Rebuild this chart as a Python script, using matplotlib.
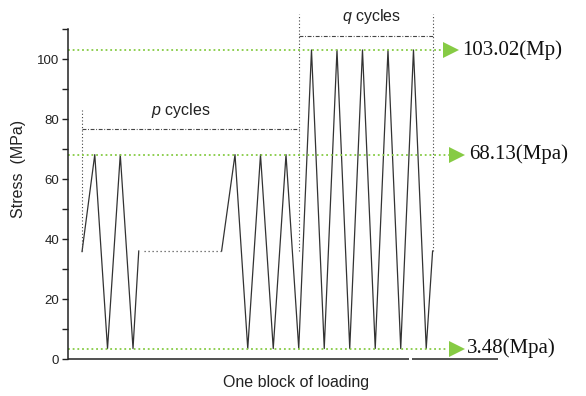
import matplotlib
matplotlib.use("Agg")
import matplotlib.pyplot as plt
from matplotlib.ticker import MultipleLocator

plt.rcParams["font.family"] = ["Liberation Sans", "DejaVu Sans"]
plt.rcParams["mathtext.fontset"] = "custom"
plt.rcParams["mathtext.rm"] = "Liberation Sans"
plt.rcParams["mathtext.it"] = "Liberation Sans:italic"

# Stress levels of the loading block (MPa)
s_max_q = 103.02
s_max_p = 68.13
s_min = 3.48
s_mean = 36.0

# First part of the p-cycle sequence
t_p1 = [0, 1, 2, 3, 4, 4.45]
s_p1 = [35.8, s_max_p, s_min, s_max_p, s_min, s_mean]

# Omitted cycles (dotted)
t_gap = [4.85, 10.95]
s_gap = [s_mean, s_mean]

# Last p cycles followed by the q cycles
t_pq = [10.95, 12, 13, 14, 15, 16, 17, 18, 19, 20, 21, 22, 23, 24, 25, 26, 27, 27.5]
s_pq = [s_mean, s_max_p, s_min, s_max_p, s_min, s_max_p, s_min,
        s_max_q, s_min, s_max_q, s_min, s_max_q, s_min, s_max_q, s_min,
        s_max_q, s_min, s_mean]

# Block boundaries and bracket levels
t_bounds = [0, 17, 27.5]
bound_tops = [83, 115, 115]
p_bracket = 76.7
q_bracket = 107.7

level_values = [s_max_q, s_max_p, s_min]
level_labels = ["103.02(Mp)", "68.13(Mpa)", "3.48(Mpa)"]
level_line_end = [28.6, 28.8, 28.7]
level_arrow_x = [28.95, 29.45, 29.4]
level_text_x = [29.85, 30.35, 30.2]

GREEN = "#86CB44"
DARK = "#333333"

fig = plt.figure(figsize=(5.86, 3.96), dpi=100)
ax = fig.add_axes([68 / 586, 1 - 359 / 396, 430 / 586, 330 / 396])

xmin, xmax = -1.1, 32.63
ax.set_xlim(xmin, xmax)
ax.set_ylim(0, 110)

# Load history
ax.plot(t_p1, s_p1, color=DARK, lw=0.9)
ax.plot(t_pq, s_pq, color=DARK, lw=0.9, clip_on=False)
ax.plot(t_gap, s_gap, color="#555555", lw=0.9, ls=(0, (1, 2.2)))

# Block boundaries
for t, top in zip(t_bounds, bound_tops):
    ax.plot([t, t], [s_mean, top], color="#444444", lw=0.8,
            ls=(0, (1, 2)), clip_on=False)

# Brackets for p and q cycles
dashdot = (0, (3.5, 1.5, 0.8, 1.5))
ax.plot([t_bounds[0], t_bounds[1]], [p_bracket, p_bracket],
        color="#444444", lw=0.8, ls=dashdot)
ax.plot([t_bounds[1], t_bounds[2]], [q_bracket, q_bracket],
        color="#444444", lw=0.8, ls=dashdot)
ax.text(7.76, 83, r"$p$ cycles", ha="center", va="center", fontsize=11.5,
        color="#222222")
ax.text(22.75, 114, r"$q$ cycles", ha="center", va="center", fontsize=11.5,
        color="#222222", clip_on=False)

# Stress levels with arrows and labels
for val, lab, xe, xa, xt in zip(level_values, level_labels, level_line_end,
                                level_arrow_x, level_text_x):
    ax.plot([xmin, xe], [val, val], color=GREEN, lw=1.3,
            ls=(0, (1, 1.6)), clip_on=False)
    ax.plot([xa], [val], marker=">", markersize=12, color=GREEN,
            markeredgewidth=0, clip_on=False)
    ax.text(xt, val, lab, ha="left", va="center", fontsize=15,
            family=["Liberation Serif", "DejaVu Serif"], color="#111111",
            clip_on=False)

# Axes styling
for side in ("top", "right", "bottom"):
    ax.spines[side].set_visible(False)
ax.spines["left"].set_color("#222222")
ax.spines["left"].set_linewidth(1.1)

ax.plot([xmin, 25.65], [0, 0], color="#222222", lw=1.1, clip_on=False,
        solid_capstyle="butt")
ax.plot([25.88, xmax], [0, 0], color="#222222", lw=1.1, clip_on=False,
        solid_capstyle="butt")

ax.set_xticks([])
ax.yaxis.set_major_locator(MultipleLocator(20))
ax.yaxis.set_minor_locator(MultipleLocator(10))
ax.set_yticks([0, 20, 40, 60, 80, 100])
ax.tick_params(axis="y", which="both", direction="out", length=4.3,
               width=1.0, color="#222222", labelsize=9.5, pad=2,
               labelcolor="#222222")

ax.set_ylabel("Stress  (MPa)", fontsize=11.5, color="#222222")
ax.yaxis.set_label_coords(-0.098, 0.576)
fig.text(295.7 / 586, 1 - 383 / 396, "One block of loading", ha="center",
         va="center", fontsize=11.5, color="#222222")

fig.savefig("out.png", dpi=100)
